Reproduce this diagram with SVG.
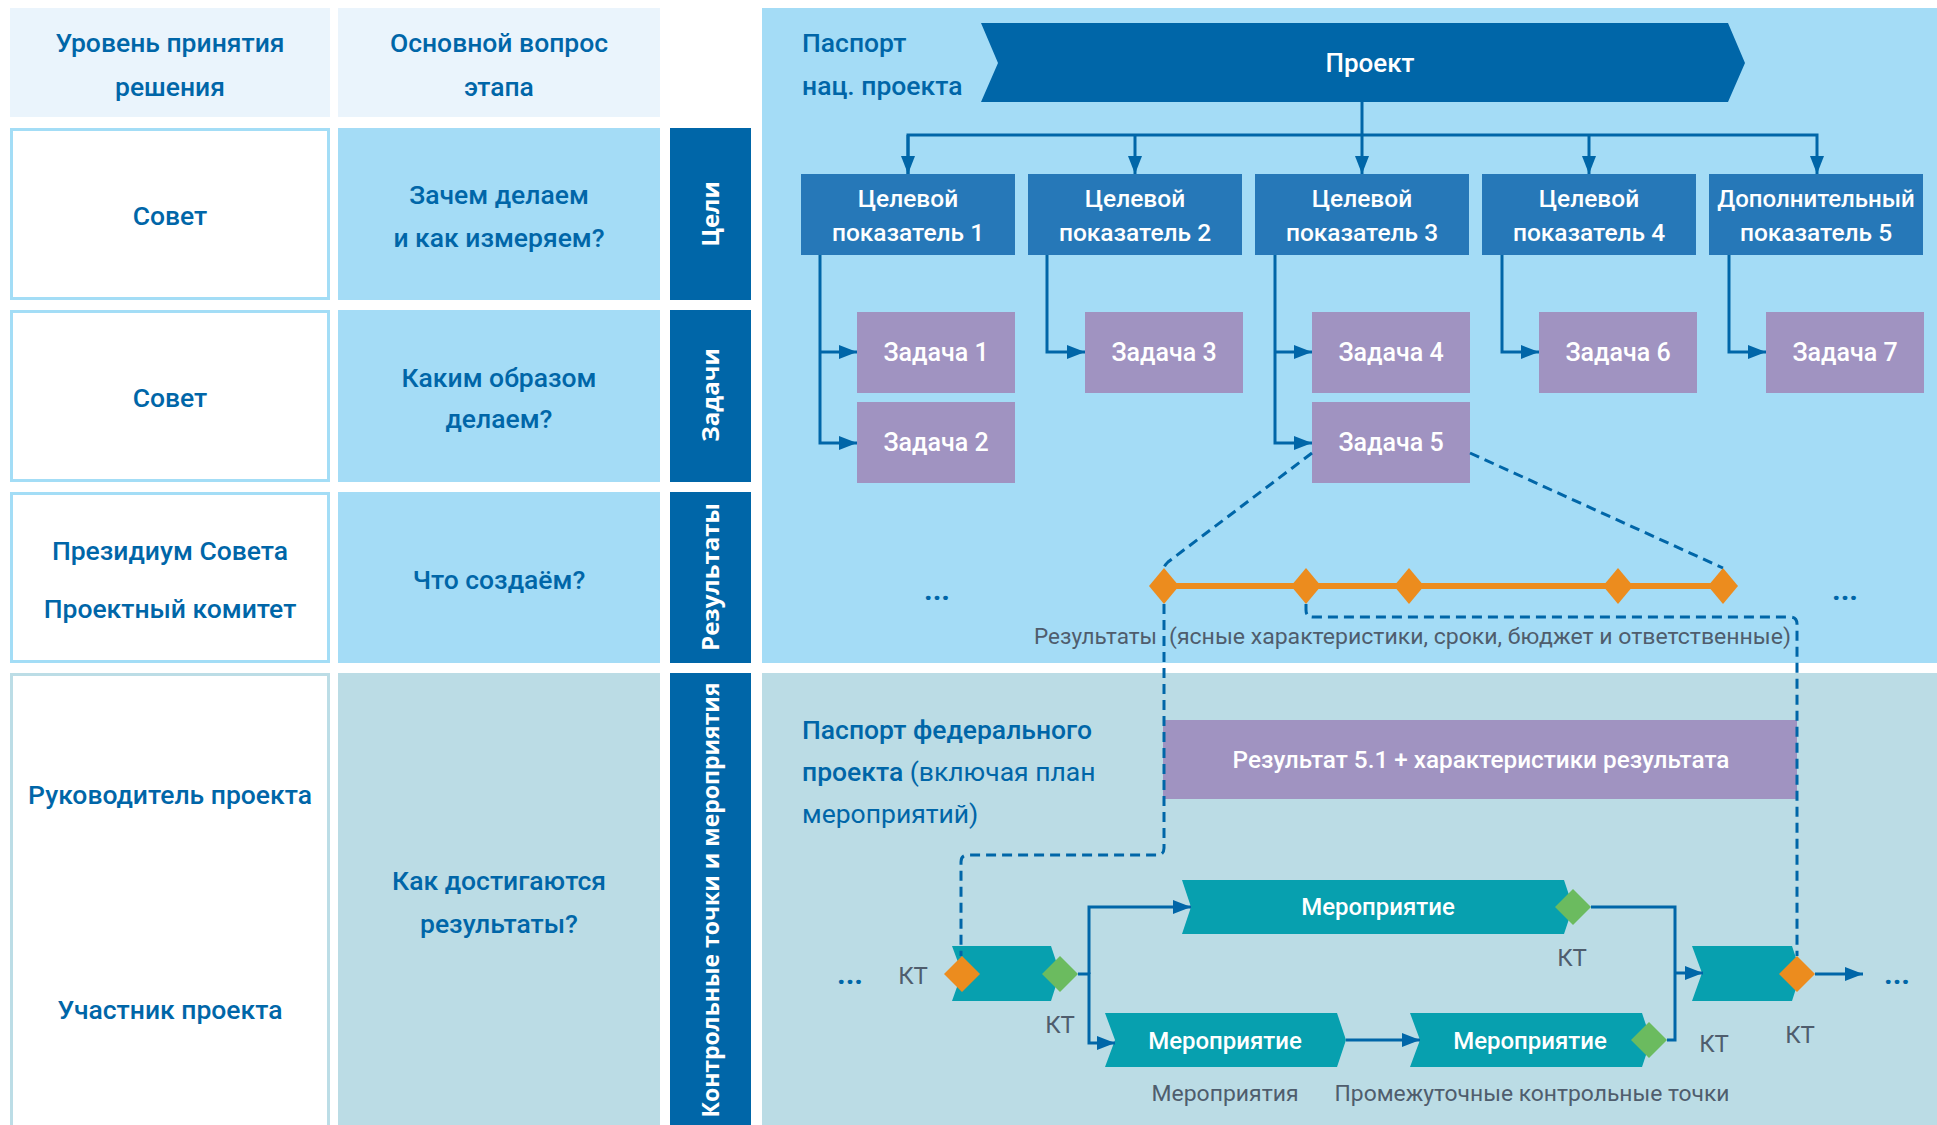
<svg xmlns="http://www.w3.org/2000/svg" width="1937" height="1125" viewBox="0 0 1937 1125">
<style>
.t{font-family:Roboto,"Liberation Sans",sans-serif;font-weight:500;font-size:24px}
.L{font-size:26.5px}
.c{text-anchor:middle}
.blue{fill:#0066a8}
.w{fill:#ffffff}
.g{fill:#4f5d6d;font-weight:400}
.bar{font-family:"Open Sans","DejaVu Sans",sans-serif;font-weight:700;fill:#ffffff;font-size:24px;text-anchor:middle}
.ln{stroke:#0066a8;stroke-width:3;fill:none}
.dash{stroke:#0066a8;stroke-width:3;fill:none;stroke-dasharray:10 6}
.hdr{fill:#eaf4fc}
.lvl{fill:#ffffff;stroke:#a3ddf6;stroke-width:3}
.lvl2{fill:#ffffff;stroke:#bcdde6;stroke-width:3}
.q{fill:#a4dcf6}
.q2{fill:#bbdce5}
.bb{fill:#0066a8}
.tgt{fill:#2678b8}
.task{fill:#a093c1}
.act{fill:#07a0af}
.tg{font-size:24.5px}
.dots{font-size:30px;font-weight:700}
</style>
<defs>
<marker id="ah" markerUnits="userSpaceOnUse" markerWidth="18" markerHeight="14" refX="18" refY="7" orient="auto"><path d="M0,0 L18,7 L0,14 Z" fill="#0066a8"/></marker>
<path id="dO" d="M0,-18 L15,0 L0,18 L-15,0 Z" fill="#ec8c1e"/>
<path id="dO2" d="M0,-18 L18,0 L0,18 L-18,0 Z" fill="#ec8c1e"/>
<path id="dG" d="M0,-18 L18,0 L0,18 L-18,0 Z" fill="#6bbb5f"/>
</defs>

<!-- left table -->
<g id="header">
<rect class="hdr" x="10" y="8" width="320" height="109"/>
<rect class="hdr" x="338" y="8" width="322" height="109"/>
<text class="t L c blue" x="170" y="52">Уровень принятия</text>
<text class="t L c blue" x="170" y="96">решения</text>
<text class="t L c blue" x="499" y="52">Основной вопрос</text>
<text class="t L c blue" x="499" y="96">этапа</text>
</g>
<g id="row-goals">
<rect class="lvl" x="11.5" y="129.5" width="317" height="169"/>
<rect class="q" x="338" y="128" width="322" height="172"/>
<rect class="bb" x="670" y="128" width="81" height="172"/>
<text class="t L c blue" x="170" y="225">Совет</text>
<text class="t L c blue" x="499" y="204">Зачем делаем</text>
<text class="t L c blue" x="499" y="247">и как измеряем?</text>
<text class="bar" transform="translate(719,214) rotate(-90)">Цели</text>
</g>
<g id="row-tasks">
<rect class="lvl" x="11.5" y="311.5" width="317" height="169"/>
<rect class="q" x="338" y="310" width="322" height="172"/>
<rect class="bb" x="670" y="310" width="81" height="172"/>
<text class="t L c blue" x="170" y="407">Совет</text>
<text class="t L c blue" x="499" y="387">Каким образом</text>
<text class="t L c blue" x="499" y="428">делаем?</text>
<text class="bar" transform="translate(719,395) rotate(-90)">Задачи</text>
</g>
<g id="row-results">
<rect class="lvl" x="11.5" y="493.5" width="317" height="168"/>
<rect class="q" x="338" y="492" width="322" height="171"/>
<rect class="bb" x="670" y="492" width="81" height="171"/>
<text class="t L c blue" x="170" y="560">Президиум Совета</text>
<text class="t L c blue" x="170" y="618">Проектный комитет</text>
<text class="t L c blue" x="499" y="589">Что создаём?</text>
<text class="bar" transform="translate(719,577) rotate(-90)">Результаты</text>
</g>
<g id="row-checkpoints">
<rect class="lvl2" x="11.5" y="674.5" width="317" height="460"/>
<rect class="q2" x="338" y="673" width="322" height="452"/>
<rect class="bb" x="670" y="673" width="81" height="452"/>
<text class="t L c blue" x="170" y="804">Руководитель проекта</text>
<text class="t L c blue" x="170" y="1019">Участник проекта</text>
<text class="t L c blue" x="499" y="890">Как достигаются</text>
<text class="t L c blue" x="499" y="933">результаты?</text>
<text class="bar" transform="translate(719,900) rotate(-90)" textLength="435" lengthAdjust="spacingAndGlyphs">Контрольные точки и мероприятия</text>
</g>

<!-- right panels -->
<rect x="762" y="8" width="1175" height="655" fill="#a4dcf6"/>
<rect x="762" y="673" width="1175" height="452" fill="#bbdce5"/>

<g id="passport-nat">
<text class="t L blue" x="802" y="52">Паспорт</text>
<text class="t L blue" x="802" y="95">нац. проекта</text>
</g>
<g id="project">
<polygon points="981,23 1728,23 1745,63 1728,102 981,102 998,63" fill="#0066a8"/>
<text class="t c w" x="1370" y="72" style="font-size:26px">Проект</text>
</g>

<g id="targets">
<g id="t1"><rect class="tgt" x="801" y="174" width="214" height="81"/><text class="t tg c w" x="908" y="207">Целевой</text><text class="t tg c w" x="908" y="241">показатель 1</text></g>
<g id="t2"><rect class="tgt" x="1028" y="174" width="214" height="81"/><text class="t tg c w" x="1135" y="207">Целевой</text><text class="t tg c w" x="1135" y="241">показатель 2</text></g>
<g id="t3"><rect class="tgt" x="1255" y="174" width="214" height="81"/><text class="t tg c w" x="1362" y="207">Целевой</text><text class="t tg c w" x="1362" y="241">показатель 3</text></g>
<g id="t4"><rect class="tgt" x="1482" y="174" width="214" height="81"/><text class="t tg c w" x="1589" y="207">Целевой</text><text class="t tg c w" x="1589" y="241">показатель 4</text></g>
<g id="t5"><rect class="tgt" x="1709" y="174" width="214" height="81"/><text class="t c w" x="1816" y="207" style="font-size:24px">Дополнительный</text><text class="t tg c w" x="1816" y="241">показатель 5</text></g>
</g>

<g id="tasks">
<g id="z1"><rect class="task" x="857" y="312" width="158" height="81"/><text class="t c w" x="936" y="361" style="font-size:25px">Задача 1</text></g>
<g id="z2"><rect class="task" x="857" y="402" width="158" height="81"/><text class="t c w" x="936" y="451" style="font-size:25px">Задача 2</text></g>
<g id="z3"><rect class="task" x="1085" y="312" width="158" height="81"/><text class="t c w" x="1164" y="361" style="font-size:25px">Задача 3</text></g>
<g id="z4"><rect class="task" x="1312" y="312" width="158" height="81"/><text class="t c w" x="1391" y="361" style="font-size:25px">Задача 4</text></g>
<g id="z5"><rect class="task" x="1312" y="402" width="158" height="81"/><text class="t c w" x="1391" y="451" style="font-size:25px">Задача 5</text></g>
<g id="z6"><rect class="task" x="1539" y="312" width="158" height="81"/><text class="t c w" x="1618" y="361" style="font-size:25px">Задача 6</text></g>
<g id="z7"><rect class="task" x="1766" y="312" width="158" height="81"/><text class="t c w" x="1845" y="361" style="font-size:25px">Задача 7</text></g>
</g>

<g id="results-timeline">
<path d="M1163,586 H1723" stroke="#ec8c1e" stroke-width="6"/>
<use href="#dO" x="1164" y="586"/>
<use href="#dO" x="1306" y="586"/>
<use href="#dO" x="1409" y="586"/>
<use href="#dO" x="1618" y="586"/>
<use href="#dO" x="1723" y="586"/>
<text class="t c blue dots" x="937" y="600">...</text>
<text class="t c blue dots" x="1845" y="600">...</text>
<text class="t g" x="1157" y="644" text-anchor="end" style="font-size:22px" textLength="123" lengthAdjust="spacingAndGlyphs">Результаты</text>
<text class="t g" x="1169" y="644" style="font-size:22px" textLength="622" lengthAdjust="spacingAndGlyphs">(ясные характеристики, сроки, бюджет и ответственные)</text>
</g>

<g id="passport-fed">
<text class="t L blue" x="802" y="739">Паспорт федерального</text>
<text class="t L blue" x="802" y="781"><tspan>проекта</tspan><tspan style="font-weight:400"> (включая план</tspan></text>
<text class="t L blue" x="802" y="823" style="font-weight:400">мероприятий)</text>
</g>
<g id="result51">
<rect class="task" x="1163" y="720" width="634" height="79"/>
<text class="t c w" x="1481" y="768" style="font-size:24.3px">Результат 5.1 + характеристики результата</text>
</g>

<g id="activities">
<g id="kt-start"><polygon class="act" points="952,946 1051,946 1060,973 1051,1001 952,1001 962,973"/></g>
<g id="act-top"><polygon class="act" points="1182,880 1564,880 1573,907 1564,934 1182,934 1191,907"/><text class="t c w" x="1378" y="915">Мероприятие</text></g>
<g id="act-b1"><polygon class="act" points="1105,1013 1337,1013 1346,1040 1337,1067 1105,1067 1115,1040"/><text class="t c w" x="1225" y="1049">Мероприятие</text></g>
<g id="act-b2"><polygon class="act" points="1410,1013 1642,1013 1651,1040 1642,1067 1410,1067 1420,1040"/><text class="t c w" x="1530" y="1049">Мероприятие</text></g>
<g id="kt-end"><polygon class="act" points="1692,946 1792,946 1801,973 1792,1001 1692,1001 1702,973"/></g>
</g>

<g id="connectors">
<path class="ln" d="M1362,102 V174" marker-end="url(#ah)"/>
<path class="ln" d="M908,174 V135 H1817 V174" marker-end="url(#ah)"/>
<path class="ln" d="M908,135 V174" marker-end="url(#ah)"/>
<path class="ln" d="M1135,135 V174" marker-end="url(#ah)"/>
<path class="ln" d="M1589,135 V174" marker-end="url(#ah)"/>
<path class="ln" d="M820,255 V443 H857" marker-end="url(#ah)"/>
<path class="ln" d="M820,352 H857" marker-end="url(#ah)"/>
<path class="ln" d="M1047,255 V352 H1085" marker-end="url(#ah)"/>
<path class="ln" d="M1275,255 V443 H1312" marker-end="url(#ah)"/>
<path class="ln" d="M1275,352 H1312" marker-end="url(#ah)"/>
<path class="ln" d="M1502,255 V352 H1539" marker-end="url(#ah)"/>
<path class="ln" d="M1729,255 V352 H1766" marker-end="url(#ah)"/>

<path class="dash" d="M1312,453 L1168,562 Q1164,566 1164,568"/>
<path class="dash" d="M1470,453 L1723,568"/>
<path class="dash" d="M1306,604 V610 Q1306,617 1313,617 H1790 Q1797,617 1797,624 V956"/>
<path class="dash" d="M1164,604 V848 Q1164,855 1157,855 H968 Q961,855 961,862 V956"/>

<path class="ln" d="M1078,974 H1089 V1043 H1115" marker-end="url(#ah)"/>
<path class="ln" d="M1089,974 V907 H1191" marker-end="url(#ah)"/>
<path class="ln" d="M1591,907 H1675 V1040 H1667"/>
<path class="ln" d="M1675,973 H1703" marker-end="url(#ah)"/>
<path class="ln" d="M1346,1040 H1420" marker-end="url(#ah)"/>
<path class="ln" d="M1815,974 H1863" marker-end="url(#ah)"/>
</g>

<g id="checkpoints">
<use href="#dO2" x="962" y="974"/>
<use href="#dG" x="1060" y="974"/>
<use href="#dG" x="1573" y="907"/>
<use href="#dG" x="1649" y="1040"/>
<use href="#dO2" x="1797" y="974"/>
<text class="t g" x="913" y="984" text-anchor="middle">КТ</text>
<text class="t g" x="1060" y="1033" text-anchor="middle">КТ</text>
<text class="t g" x="1572" y="966" text-anchor="middle">КТ</text>
<text class="t g" x="1714" y="1052" text-anchor="middle">КТ</text>
<text class="t g" x="1800" y="1043" text-anchor="middle">КТ</text>
<text class="t c blue dots" x="850" y="984">...</text>
<text class="t c blue dots" x="1897" y="984">...</text>
<text class="t g c" x="1225" y="1101" style="font-size:22px" textLength="147" lengthAdjust="spacingAndGlyphs">Мероприятия</text>
<text class="t g c" x="1532" y="1101" style="font-size:22px" textLength="395" lengthAdjust="spacingAndGlyphs">Промежуточные контрольные точки</text>
</g>
</svg>
